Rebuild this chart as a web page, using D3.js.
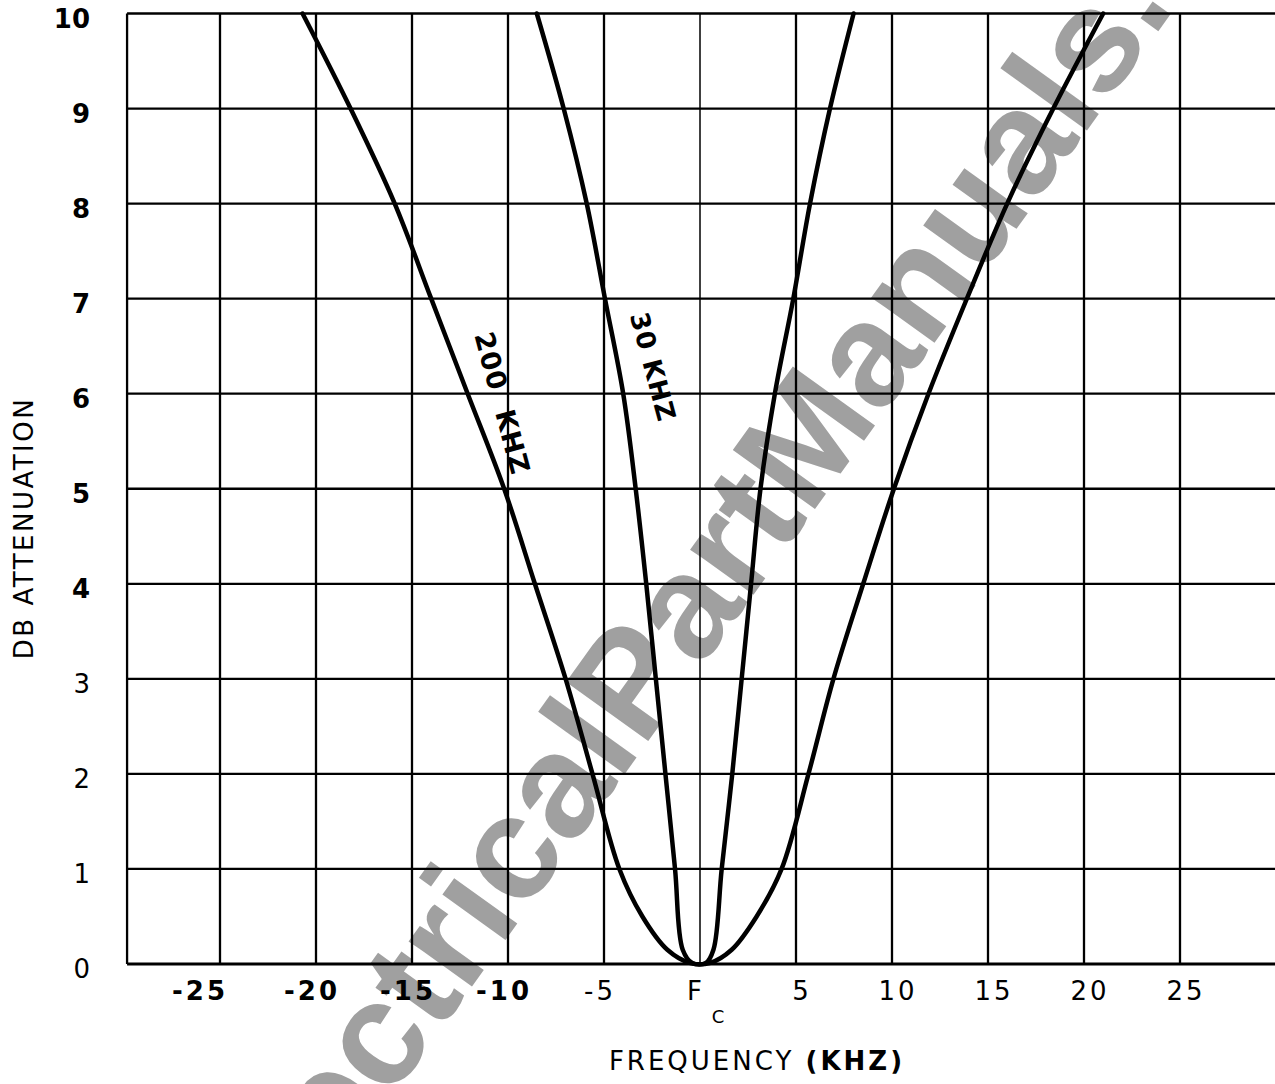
<!DOCTYPE html>
<html>
<head>
<meta charset="utf-8">
<script src="https://cdn.jsdelivr.net/npm/d3@7/dist/d3.min.js"></script>
<style>
  body { margin: 0; background: #fff; }
  svg { display: block; }
  text { font-family: "DejaVu Sans", sans-serif; fill: #000; }
</style>
</head>
<body>
<div id="chart"></div>
<script>
// frequency offset from Fc (kHz)
var xTicks = [-25, -20, -15, -10, -5, 0, 5, 10, 15, 20, 25];
var xTickLabels = ["-25", "-20", "-15", "-10", "-5", "F", "5", "10", "15", "20", "25"];
// dB attenuation
var yTicks = [0, 1, 2, 3, 4, 5, 6, 7, 8, 9, 10];

// [kHz, dB]
var bw200 = [[-20.7, 10], [-18.2, 9], [-15.9, 8], [-14.0, 7], [-12.1, 6], [-10.2, 5],
             [-8.6, 4], [-7.0, 3], [-5.6, 2], [-4.2, 1], [-3.0, 0.5], [-1.7, 0.15],
             [-0.5, 0.01], [0.5, 0.01], [1.65, 0.15], [2.95, 0.5], [4.25, 1], [5.65, 2],
             [6.95, 3], [8.5, 4], [10.1, 5], [11.9, 6], [13.9, 7], [16.0, 8], [18.4, 9], [21.0, 10]];
var bw30 = [[-8.5, 10], [-7.1, 9], [-5.9, 8], [-4.95, 7], [-4.0, 6], [-3.35, 5],
            [-2.8, 4], [-2.3, 3], [-1.8, 2], [-1.3, 1], [-0.9, 0.15], [-0.4, 0.01],
            [0.3, 0.01], [0.7, 0.15], [1.13, 1], [1.68, 2], [2.17, 3], [2.66, 4],
            [3.15, 5], [3.9, 6], [4.86, 7], [5.73, 8], [6.77, 9], [8.0, 10]];

var curveNames = ["200  KHZ", "30 KHZ"];
var curveNameAt = [[-10.3, 5.9], [-2.45, 6.28]];

var W = 1275, H = 1084;
var svg = d3.select("#chart").append("svg").attr("width", W).attr("height", H);

var x = d3.scaleLinear().domain([-25, 25]).range([220, 1180]);
var y = d3.scaleLinear().domain([0, 10]).range([964, 13.5]);
var xMin = -29.84, xMax = 30;

// watermark underneath
svg.append("text")
    .attr("transform", "translate(261,1280) rotate(-54.3)")
    .style("font-family", "'Liberation Sans', Arial, sans-serif")
    .style("font-size", "147px")
    .style("font-weight", "bold")
    .style("fill", "#a0a0a0")
    .text("ElectricalPartManuals.com");

var grid = svg.append("g");

grid.selectAll(".hl").data(yTicks).enter().append("line")
    .attr("x1", x(xMin)).attr("x2", x(xMax))
    .attr("y1", function(d){ return y(d); }).attr("y2", function(d){ return y(d); })
    .attr("stroke", "#000")
    .attr("stroke-width", function(d){ return d === 0 ? 3 : 2.3; });

grid.selectAll(".vl").data(xTicks).enter().append("line")
    .attr("x1", function(d){ return x(d); }).attr("x2", function(d){ return x(d); })
    .attr("y1", y(10)).attr("y2", y(0))
    .attr("stroke", "#000")
    .attr("stroke-width", function(d){ return d === 0 ? 1.5 : 2.3; });

grid.append("line")
    .attr("x1", x(xMin)).attr("x2", x(xMin))
    .attr("y1", y(10)).attr("y2", y(0))
    .attr("stroke", "#000").attr("stroke-width", 2.3);

// curves
var line = d3.line()
    .x(function(d){ return x(d[0]); })
    .y(function(d){ return y(d[1]); })
    .curve(d3.curveCatmullRom.alpha(0.5));

svg.selectAll(".curve").data([bw200, bw30]).enter().append("path")
    .attr("d", line)
    .attr("fill", "none")
    .attr("stroke", "#000")
    .attr("stroke-width", 4.5)
    .attr("stroke-linejoin", "round")
    .attr("stroke-linecap", "round");

svg.selectAll(".cname").data(curveNames).enter().append("text")
    .attr("transform", function(d, i){
        return "translate(" + x(curveNameAt[i][0]) + "," + y(curveNameAt[i][1]) + ") rotate(75)";
    })
    .attr("text-anchor", "middle")
    .attr("dominant-baseline", "central")
    .style("font-size", function(d, i){ return i === 0 ? "27px" : "26px"; })
    .style("font-weight", "bold")
    .style("letter-spacing", "1px")
    .style("white-space", "pre")
    .text(function(d){ return d; });

// y tick labels
svg.selectAll(".ylab").data(yTicks).enter().append("text")
    .attr("x", 90)
    .attr("y", function(d){ return y(d) + 14; })
    .attr("text-anchor", "end")
    .style("font-size", "26px")
    .style("font-weight", function(d){ return d >= 4 ? "bold" : "normal"; })
    .text(function(d){ return d; });

// x tick labels
svg.selectAll(".xlab").data(xTicks).enter().append("text")
    .attr("x", function(d){ return x(d) + (d === -25 ? -20 : d < 0 ? -4 : d === 0 ? -4 : 6); })
    .attr("y", 1000)
    .attr("text-anchor", "middle")
    .style("font-size", "26px")
    .style("letter-spacing", "3px")
    .style("font-weight", function(d){ return d <= -10 ? "bold" : "normal"; })
    .text(function(d, i){ return xTickLabels[i]; });

svg.append("text")
    .attr("x", x(0) + 18).attr("y", 1023)
    .attr("text-anchor", "middle")
    .style("font-size", "18px")
    .text("C");

// axis titles
svg.append("text")
    .attr("transform", "translate(33,528) rotate(-90)")
    .attr("text-anchor", "middle")
    .style("font-size", "26px")
    .style("letter-spacing", "2.5px")
    .text("DB ATTENUATION");

var xt = svg.append("text")
    .attr("x", 757).attr("y", 1070)
    .attr("text-anchor", "middle")
    .style("font-size", "26px")
    .style("letter-spacing", "3px");
xt.append("tspan").text("FREQUENCY ");
xt.append("tspan").style("font-weight", "bold").text("(KHZ)");
</script>
</body>
</html>
